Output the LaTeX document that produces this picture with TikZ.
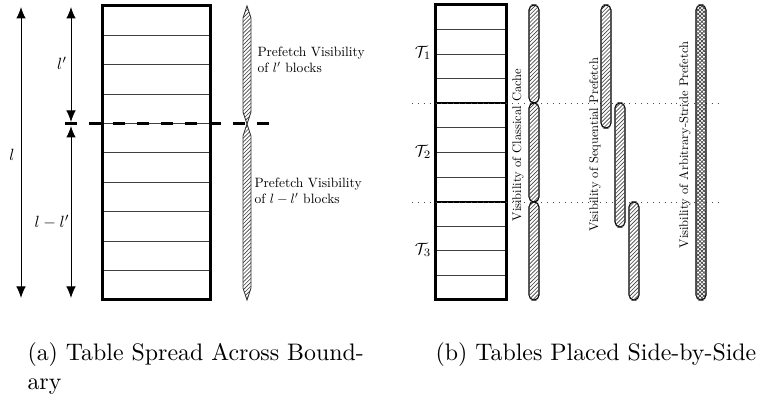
\documentclass[tikz,border=0pt]{standalone}
\usepackage{graphicx}
\usetikzlibrary{arrows.meta,patterns.meta}

\tikzset{
  dimarrow/.style={line width=0.4pt, {Latex[length=4.6pt,width=3.8pt]}-{Latex[length=4.6pt,width=3.8pt]}},
  tableframe/.style={line width=1.2pt},
  rowline/.style={line width=0.4pt, black!75},
  blockline/.style={line width=0.9pt},
  boundary/.style={line width=1.2pt, dash pattern=on 4.8pt off 4.8pt},
  splitline/.style={line width=0.35pt, black!70, dotted},
  hatch/.style={fill=white, postaction={pattern={Lines[angle=45,distance=1.1pt,line width=0.25pt]}, pattern color=black!75}},
  crosshatch/.style={fill=white,
    postaction={pattern={Lines[angle=45,distance=1.1pt,line width=0.25pt]}, pattern color=black!75},
    postaction={pattern={Lines[angle=-45,distance=1.1pt,line width=0.25pt]}, pattern color=black!75}},
  lozenge/.style={draw=black!80, line width=0.35pt, hatch},
  visbar/.style={draw=black, line width=0.45pt, rounded corners=2pt},
  lbl/.style={inner sep=0pt},
}

\newcommand\smalltext[1]{\scalebox{0.54}{#1}}
\newcommand\sidetext[1]{\scalebox{0.5}{#1}}
\newcommand\mathlabel[1]{\scalebox{0.65}{#1}}
\newcommand\captext[1]{\scalebox{0.955}{#1}}

\begin{document}
\begin{tikzpicture}[x=0.4pt,y=-0.4pt]
\useasboundingbox (0,0) rectangle (768,397);

% ---------------- (a) table spread across a boundary ----------------
% dimension arrows
\coordinate (lTop) at (21,7);
\coordinate (lBot) at (21,298);
\coordinate (pTop) at (71,7);
\coordinate (pMidA) at (71,122);
\coordinate (pMidB) at (71,126);
\coordinate (pBot) at (71,298);
\draw[dimarrow] (lTop) -- (lBot);
\draw[dimarrow] (pTop) -- (pMidA);
\draw[dimarrow] (pMidB) -- (pBot);

\node[lbl] (lAll) at (12,155) {\mathlabel{$l$}};
\node[lbl] (lUp) at (62,63) {\mathlabel{$l'$}};
\node[lbl] (lDown) at (52,222) {\mathlabel{$l-l'$}};

% the table, ten blocks
\foreach \i in {1,...,9}
  \draw[rowline] (102,{6+29.4*\i}) -- (210,{6+29.4*\i});
\draw[tableframe] (102,6) rectangle (210,300);

% boundary
\coordinate (bL) at (65,124);
\coordinate (bR) at (269,124);
\draw[boundary] (bL) -- (bR);

% prefetch visibility on either side of the boundary
\draw[lozenge] (247,6) -- (251,18) -- (251,112) -- (247,124) -- (243,112) -- (243,18) -- cycle;
\draw[lozenge] (247,124) -- (251,136) -- (251,288) -- (247,300) -- (243,288) -- (243,136) -- cycle;

\node[lbl, anchor=west] (visUp) at (257,61)
  {\smalltext{\begin{tabular}{@{}l@{}}Prefetch Visibility\\of $l'$ blocks\end{tabular}}};
\node[lbl, anchor=west] (visDown) at (254,192)
  {\smalltext{\begin{tabular}{@{}l@{}}Prefetch Visibility\\of $l-l'$ blocks\end{tabular}}};

% ---------------- (b) tables placed side by side ----------------
\foreach \i in {1,...,11}
  \draw[rowline] (435,{5+24.583*\i}) -- (506,{5+24.583*\i});
\draw[blockline] (435,103) -- (506,103);
\draw[blockline] (435,202) -- (506,202);
\draw[tableframe] (435,5) rectangle (506,300);

\draw[splitline] (412,103) -- (720,103);
\draw[splitline] (412,202) -- (720,202);

\node[lbl] (T1) at (423,53) {\mathlabel{$\mathcal{T}_1$}};
\node[lbl] (T2) at (423,152) {\mathlabel{$\mathcal{T}_2$}};
\node[lbl] (T3) at (423,250) {\mathlabel{$\mathcal{T}_3$}};

% classical cache
\draw[visbar, hatch] (529,5) rectangle (539,103);
\draw[visbar, hatch] (529,103) rectangle (539,202);
\draw[visbar, hatch] (529,202) rectangle (539,300);
% sequential prefetch
\draw[visbar, hatch] (601,5) rectangle (611,128);
\draw[visbar, hatch] (615,103) rectangle (625,227);
\draw[visbar, hatch] (629,202) rectangle (639,300);
% arbitrary-stride prefetch
\draw[visbar, crosshatch] (696,5) rectangle (706,300);

\node[lbl, rotate=90] (cc) at (518,145) {\sidetext{Visibility of Classical Cache}};
\node[lbl, rotate=90] (sp) at (595,145) {\sidetext{Visibility of Sequential Prefetch}};
\node[lbl, rotate=90] (ap) at (685,145) {\sidetext{Visibility of Arbitrary-Stride Prefetch}};

% ---------------- captions ----------------
\node[lbl, anchor=north west] (capA) at (27,340)
  {\captext{\begin{tabular}{@{}l@{}}(a) Table Spread Across Bound-\\ary\end{tabular}}};
\node[lbl, anchor=north west] (capB) at (435,340)
  {\captext{\begin{tabular}{@{}l@{}}(b) Tables Placed Side-by-Side\end{tabular}}};
\end{tikzpicture}
\end{document}
